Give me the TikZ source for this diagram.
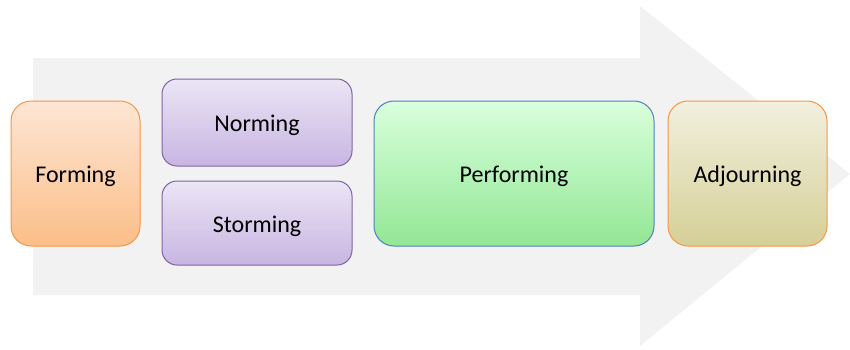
\documentclass[tikz,border=0pt]{standalone}
\usepackage{fontspec}
\setmainfont{Carlito}
\definecolor{arrowgray}{HTML}{F2F2F2}
\definecolor{orangeline}{HTML}{F79646}
\definecolor{formtop}{HTML}{FDE6D4}
\definecolor{formbot}{HTML}{FBBE88}
\definecolor{purpleline}{HTML}{8064A2}
\definecolor{purptop}{HTML}{EBE5F5}
\definecolor{purpbot}{HTML}{C8B5E2}
\definecolor{blueline}{HTML}{4F81BD}
\definecolor{greentop}{HTML}{D9FFDD}
\definecolor{greenbot}{HTML}{92E794}
\definecolor{adjtop}{HTML}{F2F0DF}
\definecolor{adjbot}{HTML}{D5CF96}
\tikzset{
  stage/.style={rounded corners=20pt, line width=1pt, inner sep=0pt,
    text height=22pt, text depth=4pt,
    font=\fontsize{24}{28}\selectfont, text=black},
  formbox/.style={stage, draw=orangeline, top color=formtop, bottom color=formbot},
  purpbox/.style={stage, rounded corners=15pt, draw=purpleline, top color=purptop, bottom color=purpbot},
  perfbox/.style={stage, draw=blueline, top color=greentop, bottom color=greenbot},
  adjbox/.style={stage, draw=orangeline, top color=adjtop, bottom color=adjbot},
}
\begin{document}
\begin{tikzpicture}[x=1pt,y=-1pt]
\useasboundingbox (0,0) rectangle (850,349);
\fill[arrowgray] (33,58) -- (640,58) -- (640,6) -- (850,174) -- (640,346) -- (640,295) -- (33,295) -- cycle;
\node[formbox, minimum width=129pt, minimum height=145pt] (forming) at (75.5,173.5) {Forming};
\node[purpbox, minimum width=190pt, minimum height=87pt] (norming) at (257,122.5) {Norming};
\node[purpbox, minimum width=190pt, minimum height=84pt] (storming) at (257,223) {Storming};
\node[perfbox, minimum width=280pt, minimum height=145pt] (performing) at (514,173.5) {Performing};
\node[adjbox, minimum width=159pt, minimum height=145pt] (adjourning) at (747.5,173.5) {Adjourning};
\end{tikzpicture}
\end{document}
